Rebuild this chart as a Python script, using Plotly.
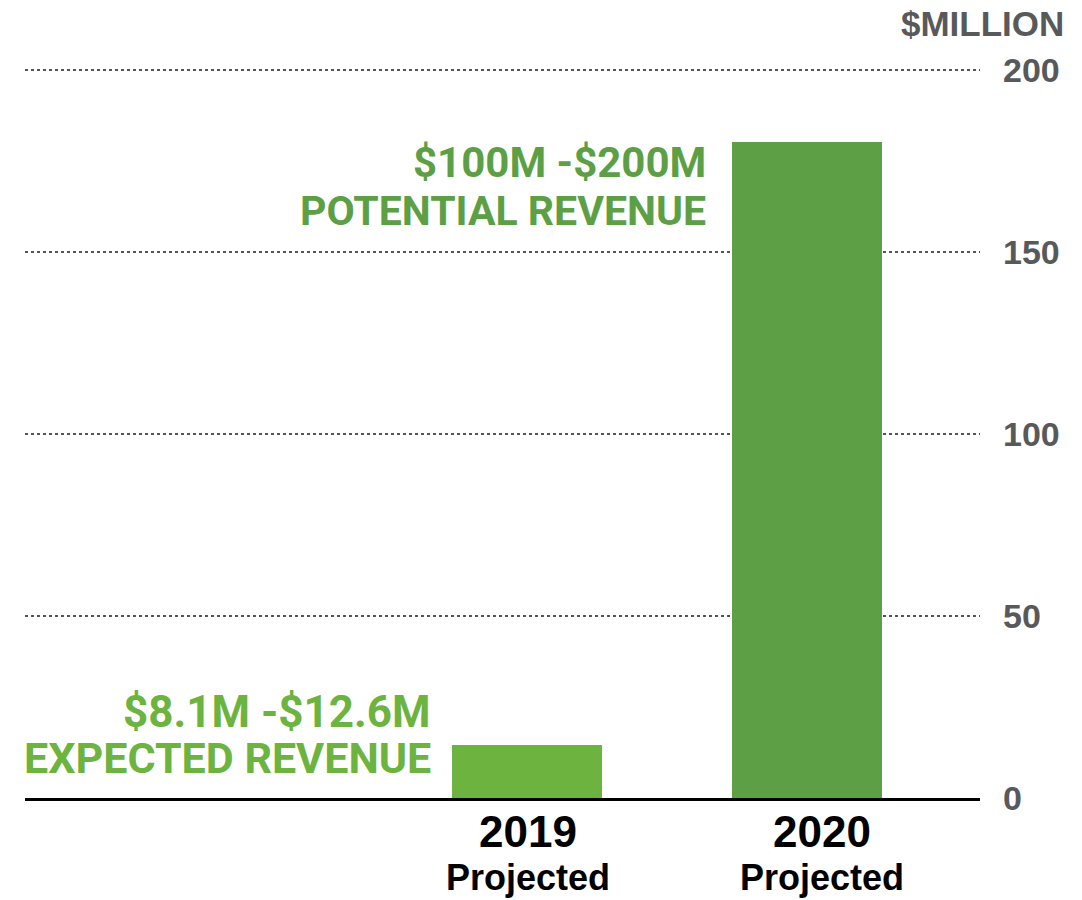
import plotly.graph_objects as go

categories = ["2019", "2020"]
tick_years = ["2019", "2020"]
sub_labels = ["Projected", "Projected"]
values = [14.5, 180]
range_labels = ["$8.1M -$12.6M", "$100M -$200M"]
desc_labels = ["EXPECTED REVENUE", "POTENTIAL REVENUE"]
bar_colors = ["#6cb33f", "#5c9f45"]
y_ticks = [0, 50, 100, 150, 200]

REG = "Liberation Sans, Arial, sans-serif"
GRN = "Roboto, Liberation Sans, sans-serif"

fig = go.Figure()
fig.add_trace(go.Bar(
    x=categories, y=values, marker=dict(color=bar_colors, line=dict(width=0)),
    width=0.536, hoverinfo="skip", showlegend=False,
))

# label geometry (pixel offsets relative to bar top / bar edge)
xshifts = [-94, -99]
line1_shift = [33, -20]
line2_shift = [-13, -69]
range_sizes = [44, 42]
desc_sizes = [43, 41]
cat_label_shift = [1, 15]

for i, c in enumerate(categories):
    fig.add_annotation(x=i, y=values[i], xref="x", yref="y", xanchor="right", yanchor="middle",
                       xshift=xshifts[i], yshift=line1_shift[i], showarrow=False,
                       text="<b>" + range_labels[i] + "</b>",
                       font=dict(family=GRN, size=range_sizes[i], color=bar_colors[i]))
    fig.add_annotation(x=i, y=values[i], xref="x", yref="y", xanchor="right", yanchor="middle",
                       xshift=xshifts[i], yshift=line2_shift[i], showarrow=False,
                       text="<b>" + desc_labels[i] + "</b>",
                       font=dict(family=GRN, size=desc_sizes[i], color=bar_colors[i]))
    fig.add_annotation(x=i, y=0, xref="x", yref="paper", xanchor="center", yanchor="middle",
                       xshift=cat_label_shift[i], yshift=-33, showarrow=False,
                       text="<b>" + tick_years[i] + "</b>",
                       font=dict(family=REG, size=44, color="#000000"))
    fig.add_annotation(x=i, y=0, xref="x", yref="paper", xanchor="center", yanchor="middle",
                       xshift=cat_label_shift[i], yshift=-79, showarrow=False,
                       text="<b>" + sub_labels[i] + "</b>",
                       font=dict(family=REG, size=36, color="#000000"))

fig.add_annotation(x=1.090, y=1.058, xref="paper", yref="paper", xanchor="right", yanchor="middle",
                   showarrow=False, text="<b>$MILLION</b>",
                   font=dict(family=REG, size=35, color="#58595b"))

fig.update_layout(
    width=1082, height=900,
    margin=dict(l=17, r=110, t=58, b=110),
    plot_bgcolor="white", paper_bgcolor="white",
    bargap=0,
    xaxis=dict(
        type="category", range=[-1.793, 1.618], automargin=False,
        showticklabels=False,
        showgrid=False, zeroline=False,
        showline=True, linecolor="#000000", linewidth=3,
        ticks="",
    ),
    yaxis=dict(
        range=[0, 201], side="right", automargin=False,
        tickmode="array", tickvals=y_ticks,
        ticktext=["<b>%d</b>" % v for v in y_ticks],
        tickfont=dict(family=REG, size=34, color="#58595b"),
        showgrid=True, gridcolor="#555555", gridwidth=2, griddash="dot",
        zeroline=False, showline=False, ticks="", ticklabelstandoff=22,
    ),
)

fig.write_html("out.html")
